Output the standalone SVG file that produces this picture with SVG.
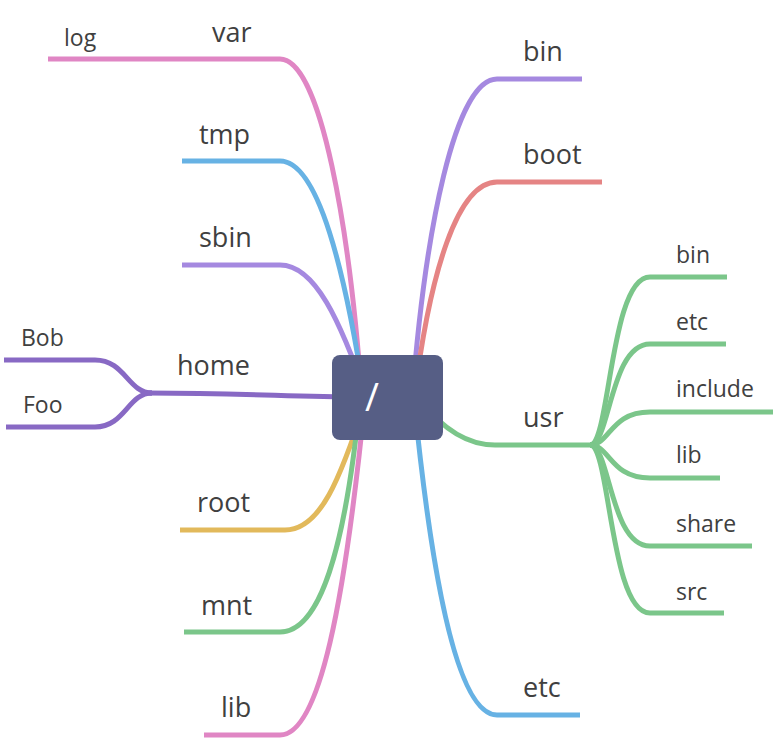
<svg xmlns="http://www.w3.org/2000/svg" width="778" height="740" viewBox="0 0 778 740">
<style>
.c{fill:none;stroke-width:5;stroke-linecap:butt}
.t1{font-family:"Open Sans","Noto Sans","DejaVu Sans",sans-serif;font-size:27px;fill:#404040}
.t2{font-family:"Open Sans","Noto Sans","DejaVu Sans",sans-serif;font-size:23px;fill:#404040}
.pink{stroke:#e086c4}.blue{stroke:#67b2e4}.lav{stroke:#a589e0}.pur{stroke:#8869c4}
.yel{stroke:#e2b95b}.grn{stroke:#7bc68a}.red{stroke:#e58484}
</style>
<rect width="778" height="740" fill="#ffffff"/>
<g id="connectors">
<path class="c pink" d="M48,59 L280,59 C321,59 350,230 362,400"/>
<path class="c blue" d="M182,161 L280,161 C318,161 345,270 365,400"/>
<path class="c lav" d="M182,265 L280,265 C315,265 340,320 368,400"/>
<path class="c pur" d="M148,393 C250,393 290,397 362,397"/>
<path class="c pur" d="M4,360 L95,360 C125,360 128,393 152,393"/>
<path class="c pur" d="M6,427 L95,427 C125,427 128,393 152,393"/>
<path class="c yel" d="M180,530 L285,530 C320,530 340,480 366,400"/>
<path class="c grn" d="M184,632 L280,632 C320,632 345,550 360,400"/>
<path class="c pink" d="M204,735 L280,735 C320,735 345,600 365,400"/>
<path class="c lav" d="M582,79 L497,79 C455,79 425,230 412,400"/>
<path class="c red" d="M602,182 L497,182 C458,182 430,270 414,400"/>
<path class="c blue" d="M580,715 L497,715 C455,715 430,560 414,400"/>
<path class="c grn" d="M420,400 Q455,445 495,445 L590,445"/>
<path class="c grn" d="M590,445 C610,445 610,277 650,277 L727,277"/>
<path class="c grn" d="M590,445 C610,445 610,344 650,344 L726,344"/>
<path class="c grn" d="M590,445 C610,445 610,412 650,412 L773,412"/>
<path class="c grn" d="M590,445 C610,445 610,478 650,478 L720,478"/>
<path class="c grn" d="M590,445 C610,445 610,546 650,546 L752,546"/>
<path class="c grn" d="M590,445 C610,445 610,613 650,613 L724,613"/>
</g>
<g id="node-root">
<rect x="332" y="355" width="111" height="85" rx="8" fill="#565e85"/>
<text x="372" y="411" text-anchor="middle" font-family="Open Sans, Noto Sans, sans-serif" font-size="38" fill="#ffffff">/</text>
</g>
<g id="node-var"><text class="t1" x="212" y="42">var</text></g>
<g id="node-log"><text class="t2" x="64" y="46">log</text></g>
<g id="node-tmp"><text class="t1" x="199" y="144">tmp</text></g>
<g id="node-sbin"><text class="t1" x="199" y="247">sbin</text></g>
<g id="node-home"><text class="t1" x="177" y="375">home</text></g>
<g id="node-bob"><text class="t2" x="21" y="346">Bob</text></g>
<g id="node-foo"><text class="t2" x="23" y="413">Foo</text></g>
<g id="node-root-dir"><text class="t1" x="197" y="512">root</text></g>
<g id="node-mnt"><text class="t1" x="201" y="615">mnt</text></g>
<g id="node-lib"><text class="t1" x="221" y="717">lib</text></g>
<g id="node-bin"><text class="t1" x="523" y="61">bin</text></g>
<g id="node-boot"><text class="t1" x="523" y="164">boot</text></g>
<g id="node-usr"><text class="t1" x="523" y="427">usr</text></g>
<g id="node-etc"><text class="t1" x="523" y="697">etc</text></g>
<g id="node-usr-bin"><text class="t2" x="676" y="263">bin</text></g>
<g id="node-usr-etc"><text class="t2" x="676" y="330">etc</text></g>
<g id="node-usr-include"><text class="t2" x="676" y="397">include</text></g>
<g id="node-usr-lib"><text class="t2" x="676" y="463">lib</text></g>
<g id="node-usr-share"><text class="t2" x="676" y="532">share</text></g>
<g id="node-usr-src"><text class="t2" x="676" y="600">src</text></g>
</svg>
